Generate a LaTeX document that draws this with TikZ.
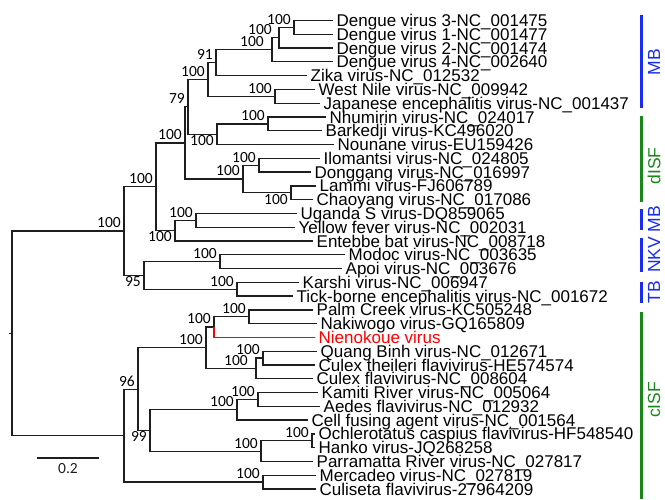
\documentclass[tikz,border=0pt]{standalone}
\usepackage{fontspec}
\newfontfamily\taxfont{Liberation Sans}
\newfontfamily\bootfont{Carlito}
\definecolor{treeline}{RGB}{30,30,30}
\definecolor{cladeblue}{RGB}{25,45,240}
\definecolor{cladegreen}{RGB}{25,135,25}

\begin{document}
\begin{tikzpicture}[x=1pt,y=-1pt,line join=miter,
  branch/.style={treeline,line width=1.35pt},
  taxon/.style={anchor=base west,inner sep=0pt,xshift=3.5pt,yshift=-6pt,text height=9pt,text depth=1.5pt,font=\taxfont\fontsize{17}{17}\selectfont},
  boot/.style={anchor=south east,inner sep=3pt,text height=8pt,text depth=0pt,font=\bootfont\fontsize{15.5}{15.5}\selectfont},
  bootlow/.style={boot,anchor=north east},
  cladebar/.style={line width=3pt},
  cladename/.style={rotate=90,inner sep=0pt,font=\taxfont\fontsize{17.5}{17.5}\selectfont}]
  \useasboundingbox (0,0) rectangle (665,499);

  % taxa
  \path (333,20.5) coordinate (l1) node[taxon] (t1) {Dengue virus 3-NC\_001475};
  \path (333,34.3) coordinate (l2) node[taxon] (t2) {Dengue virus 1-NC\_001477};
  \path (333,48.1) coordinate (l3) node[taxon] (t3) {Dengue virus 2-NC\_001474};
  \path (333,61.8) coordinate (l4) node[taxon] (t4) {Dengue virus 4-NC\_002640};
  \path (307,75.6) coordinate (l5) node[taxon] (t5) {Zika virus-NC\_012532};
  \path (315,89.4) coordinate (l6) node[taxon] (t6) {West Nile virus-NC\_009942};
  \path (320,103.2) coordinate (l7) node[taxon] (t7) {Japanese encephalitis virus-NC\_001437};
  \path (326,117.0) coordinate (l8) node[taxon] (t8) {Nhumirin virus-NC\_024017};
  \path (322,130.7) coordinate (l9) node[taxon] (t9) {Barkedji virus-KC496020};
  \path (334,144.5) coordinate (l10) node[taxon] (t10) {Nounane virus-EU159426};
  \path (320,158.3) coordinate (l11) node[taxon] (t11) {Ilomantsi virus-NC\_024805};
  \path (311,172.1) coordinate (l12) node[taxon] (t12) {Donggang virus-NC\_016997};
  \path (316,185.9) coordinate (l13) node[taxon] (t13) {Lammi virus-FJ606789};
  \path (313,199.6) coordinate (l14) node[taxon] (t14) {Chaoyang virus-NC\_017086};
  \path (297,213.4) coordinate (l15) node[taxon] (t15) {Uganda S virus-DQ859065};
  \path (295,227.2) coordinate (l16) node[taxon] (t16) {Yellow fever virus-NC\_002031};
  \path (313,241.0) coordinate (l17) node[taxon] (t17) {Entebbe bat virus-NC\_008718};
  \path (345,254.8) coordinate (l18) node[taxon] (t18) {Modoc virus-NC\_003635};
  \path (342,268.5) coordinate (l19) node[taxon] (t19) {Apoi virus-NC\_003676};
  \path (299,282.3) coordinate (l20) node[taxon] (t20) {Karshi virus-NC\_006947};
  \path (293,296.1) coordinate (l21) node[taxon] (t21) {Tick-borne encephalitis virus-NC\_001672};
  \path (313,309.9) coordinate (l22) node[taxon] (t22) {Palm Creek virus-KC505248};
  \path (317,323.7) coordinate (l23) node[taxon] (t23) {Nakiwogo virus-GQ165809};
  \path (315,337.4) coordinate (l24) node[taxon,red] (t24) {Nienokoue virus};
  \path (317,351.2) coordinate (l25) node[taxon] (t25) {Quang Binh virus-NC\_012671};
  \path (315,365.0) coordinate (l26) node[taxon] (t26) {Culex theileri flavivirus-HE574574};
  \path (313,378.8) coordinate (l27) node[taxon] (t27) {Culex flavivirus-NC\_008604};
  \path (318,392.6) coordinate (l28) node[taxon] (t28) {Kamiti River virus-NC\_005064};
  \path (320,406.3) coordinate (l29) node[taxon] (t29) {Aedes flavivirus-NC\_012932};
  \path (308,420.1) coordinate (l30) node[taxon] (t30) {Cell fusing agent virus-NC\_001564};
  \path (315,433.9) coordinate (l31) node[taxon] (t31) {Ochlerotatus caspius flavivirus-HF548540};
  \path (315,447.7) coordinate (l32) node[taxon] (t32) {Hanko virus-JQ268258};
  \path (313,461.5) coordinate (l33) node[taxon] (t33) {Parramatta River virus-NC\_027817};
  \path (316,475.2) coordinate (l34) node[taxon] (t34) {Mercadeo virus-NC\_027819};
  \path (316,489.0) coordinate (l35) node[taxon] (t35) {Culiseta flavivirus-27964209};

  % internal nodes
  \coordinate (den13) at (294,27.4);
  \coordinate (den132) at (279,37.8);
  \coordinate (den) at (272,49.8);
  \coordinate (denzik) at (216,62.7);
  \coordinate (wnje) at (275,96.3);
  \coordinate (mbv) at (208,79.5);
  \coordinate (nhba) at (268,123.9);
  \coordinate (nhbano) at (217,134.2);
  \coordinate (mb79) at (188,106.8);
  \coordinate (ildo) at (259,165.2);
  \coordinate (lach) at (291,192.8);
  \coordinate (disf) at (243,179.0);
  \coordinate (core) at (185,142.9);
  \coordinate (ugyf) at (196,220.3);
  \coordinate (ugyfen) at (175,230.6);
  \coordinate (mbdisf) at (156,186.8);
  \coordinate (moap) at (220,261.7);
  \coordinate (katbe) at (237,289.2);
  \coordinate (nkvtb) at (144,275.4);
  \coordinate (top) at (124,231.1);
  \coordinate (pank) at (249,316.8);
  \coordinate (pankni) at (214,327.1);
  \coordinate (qbct) at (263,358.1);
  \coordinate (qbctcf) at (256,368.5);
  \coordinate (cisfa) at (206,347.8);
  \coordinate (kaae) at (258,399.5);
  \coordinate (kaaecf) at (237,409.8);
  \coordinate (ocha) at (312,440.8);
  \coordinate (ochapa) at (261,451.2);
  \coordinate (cisfb) at (150,430.5);
  \coordinate (cisf) at (138,389.2);
  \coordinate (mecu) at (263,482.1);
  \coordinate (low) at (124,435.6);
  \coordinate (root) at (12,333.4);
  \coordinate (stub) at (8.5,333.4);

  \draw[branch] (den13) |- (l1) (den13) |- (l2);
  \draw[branch] (den132) |- (den13) (den132) |- (l3);
  \draw[branch] (den) |- (den132) (den) |- (l4);
  \draw[branch] (denzik) |- (den) (denzik) |- (l5);
  \draw[branch] (wnje) |- (l6) (wnje) |- (l7);
  \draw[branch] (mbv) |- (denzik) (mbv) |- (wnje);
  \draw[branch] (nhba) |- (l8) (nhba) |- (l9);
  \draw[branch] (nhbano) |- (nhba) (nhbano) |- (l10);
  \draw[branch] (mb79) |- (mbv) (mb79) |- (nhbano);
  \draw[branch] (ildo) |- (l11) (ildo) |- (l12);
  \draw[branch] (lach) |- (l13) (lach) |- (l14);
  \draw[branch] (disf) |- (ildo) (disf) |- (lach);
  \draw[branch] (core) |- (mb79) (core) |- (disf);
  \draw[branch] (ugyf) |- (l15) (ugyf) |- (l16);
  \draw[branch] (ugyfen) |- (ugyf) (ugyfen) |- (l17);
  \draw[branch] (mbdisf) |- (core) (mbdisf) |- (ugyfen);
  \draw[branch] (moap) |- (l18) (moap) |- (l19);
  \draw[branch] (katbe) |- (l20) (katbe) |- (l21);
  \draw[branch] (nkvtb) |- (moap) (nkvtb) |- (katbe);
  \draw[branch] (top) |- (mbdisf) (top) |- (nkvtb);
  \draw[branch] (pank) |- (l22) (pank) |- (l23);
  \draw[branch] (pankni) |- (pank);
  \draw[branch] (qbct) |- (l25) (qbct) |- (l26);
  \draw[branch] (qbctcf) |- (qbct) (qbctcf) |- (l27);
  \draw[branch] (cisfa) |- (pankni) (cisfa) |- (qbctcf);
  \draw[branch,red] (pankni) |- (l24);
  \draw[branch] (kaae) |- (l28) (kaae) |- (l29);
  \draw[branch] (kaaecf) |- (kaae) (kaaecf) |- (l30);
  \draw[branch] (ocha) |- (l31) (ocha) |- (l32);
  \draw[branch] (ochapa) |- (ocha) (ochapa) |- (l33);
  \draw[branch] (cisfb) |- (kaaecf) (cisfb) |- (ochapa);
  \draw[branch] (cisf) |- (cisfa) (cisf) |- (cisfb);
  \draw[branch] (mecu) |- (l34) (mecu) |- (l35);
  \draw[branch] (low) |- (cisf) (low) |- (mecu);
  \draw[branch] (root) |- (top) (root) |- (low);
  \draw[branch] (root) -- (stub);

  % bootstrap values
  \node[boot] (bden13) at (den13) {100};
  \node[boot,xshift=-4pt] (bden132) at (den132) {100};
  \node[boot,xshift=-5pt] (bden) at (den) {100};
  \node[boot] (bdenzik) at (denzik) {91};
  \node[boot] (bmbv) at (mbv) {100};
  \node[boot] (bwnje) at (wnje) {100};
  \node[boot] (bnhba) at (nhba) {100};
  \node[bootlow] (bnhbano) at (nhbano) {100};
  \node[boot] (bmb79) at (mb79) {79};
  \node[boot] (bildo) at (ildo) {100};
  \node[bootlow] (blach) at (lach) {100};
  \node[boot] (bdisf) at (disf) {100};
  \node[boot] (bcore) at (core) {100};
  \node[boot] (bugyf) at (ugyf) {100};
  \node[bootlow] (bugyfen) at (ugyfen) {100};
  \node[boot] (bmbdisf) at (mbdisf) {100};
  \node[boot] (bmoap) at (moap) {100};
  \node[boot] (bkatbe) at (katbe) {100};
  \node[bootlow] (bnkvtb) at (nkvtb) {95};
  \node[boot] (btop) at (top) {100};
  \node[boot] (bpank) at (pank) {100};
  \node[boot] (bpankni) at (pankni) {100};
  \node[boot] (bqbct) at (qbct) {100};
  \node[boot,xshift=-5pt] (bqbctcf) at (qbctcf) {100};
  \node[boot] (bcisfa) at (cisfa) {100};
  \node[boot] (bkaae) at (kaae) {100};
  \node[boot] (bkaaecf) at (kaaecf) {100};
  \node[boot] (bocha) at (ocha) {100};
  \node[boot] (bochapa) at (ochapa) {100};
  \node[bootlow] (bcisfb) at (cisfb) {99};
  \node[boot] (bcisf) at (cisf) {96};
  \node[boot] (bmecu) at (mecu) {100};

  % scale bar
  \coordinate (sbl) at (37,458);
  \coordinate (sbr) at (99,458);
  \draw[treeline,line width=2.6pt] (sbl) -- (sbr) node[midway,below=4pt,inner sep=0pt,font=\bootfont\fontsize{15.5}{15.5}\selectfont] (scale) {0.2};

  % clades
  \draw[cladebar,cladeblue] (641,15) -- (641,108);
  \draw[cladebar,cladegreen] (641,116) -- (641,202);
  \draw[cladebar,cladeblue] (641,209) -- (641,230);
  \draw[cladebar,cladeblue] (641,238) -- (641,272);
  \draw[cladebar,cladeblue] (641,282) -- (641,303);
  \draw[cladebar,cladegreen] (641,312) -- (641,499);
  \node[cladename,cladeblue] (mb) at (654,62) {MB};
  \node[cladename,cladegreen] (disfname) at (654,166) {dISF};
  \node[cladename,cladeblue] (mbtwo) at (654,219) {MB};
  \node[cladename,cladeblue] (nkv) at (654,255) {NKV};
  \node[cladename,cladeblue] (tb) at (654,292) {TB};
  \node[cladename,cladegreen] (cisfname) at (654,400) {cISF};
\end{tikzpicture}
\end{document}
